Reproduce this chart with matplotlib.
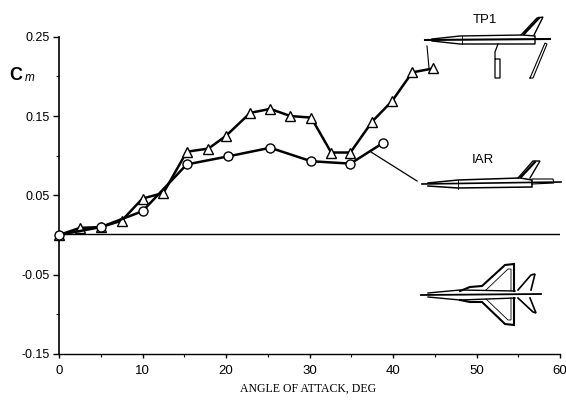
import numpy as np
import matplotlib
matplotlib.use('Agg')
import matplotlib.pyplot as plt

# Pitching moment vs angle of attack
tp1_alpha = [0, 2.5, 5, 7.5, 10, 12.5, 15.3, 17.9, 20, 22.9, 25.3, 27.7, 30.2, 32.6, 34.9, 37.5, 39.9, 42.3, 44.8]
tp1_cm = [0.0, 0.009, 0.010, 0.018, 0.046, 0.053, 0.105, 0.109, 0.125, 0.154, 0.159, 0.150, 0.148, 0.104, 0.104, 0.143, 0.169, 0.205, 0.210]
iar_alpha = [0, 5, 10, 15.3, 20.2, 25.3, 30.2, 34.9, 38.8]
iar_cm = [0.0, 0.010, 0.030, 0.089, 0.099, 0.110, 0.093, 0.090, 0.116]

x_ticks = [0, 10, 20, 30, 40, 50, 60]
x_minor = [5, 15, 25, 35, 45, 55]
y_ticks = [0.25, 0.15, 0.05, -0.05, -0.15]
y_minor = [0.20, 0.10, 0.0, -0.10]
y_labels = ['0.25', '0.15', '0.05', '-0.05', '-0.15']

W, H = 566, 400
fig = plt.figure(figsize=(W / 100, H / 100), dpi=100)
ax = fig.add_axes([59 / W, 1 - 354 / H, 501 / W, (354 - 36.7) / H])
ax.set_xlim(0, 60)
ax.set_ylim(-0.15, 0.25)
ax.spines['top'].set_visible(False)
ax.spines['right'].set_visible(False)
ax.spines['left'].set_linewidth(1.2)
ax.spines['bottom'].set_linewidth(1.0)

ax.set_xticks(x_ticks)
ax.set_xticks(x_minor, minor=True)
ax.set_yticks(y_ticks)
ax.set_yticks(y_minor, minor=True)
ax.set_yticklabels(y_labels, family='Liberation Sans', fontsize=9)
ax.set_xticklabels([str(t) for t in x_ticks], family='Liberation Sans', fontsize=9.5)
ax.tick_params(axis='y', which='major', length=4, width=1.0, pad=3)
ax.tick_params(axis='x', which='major', length=3, width=1.0, pad=5)
ax.tick_params(axis='both', which='minor', length=2, width=0.8)
ax.set_xlabel('ANGLE OF ATTACK, DEG', family='Liberation Serif', fontsize=8.5)
ax.xaxis.set_label_coords(0.497, -0.09)

ax.axhline(0.001, color='black', lw=1.0, zorder=1)
ax.plot(tp1_alpha, tp1_cm, color='black', lw=1.8, marker='^', ms=7, mfc='white', mec='black', mew=1.0,
        zorder=3, clip_on=False)
ax.plot(iar_alpha, iar_cm, color='black', lw=1.8, marker='o', ms=6.5, mfc='white', mec='black', mew=1.0,
        zorder=4, clip_on=False)

# Overlay in pixel coordinates for the aircraft sketches and notes
ov = fig.add_axes([0, 0, 1, 1], facecolor='none')
ov.set_xlim(0, W)
ov.set_ylim(H, 0)
ov.axis('off')


def sketch(points, lw=1.0):
    pts = np.array(points)
    ov.plot(pts[:, 0], pts[:, 1], color='black', lw=lw, solid_joinstyle='miter')


ov.text(9, 75, 'C', family='Liberation Sans', fontweight='bold', fontsize=13, va='center', ha='left')
ov.text(25, 78, 'm', family='Liberation Sans', style='italic', fontsize=8.5, va='center', ha='left')
ov.text(485, 20, 'TP1', family='Liberation Sans', fontsize=9.5, va='center', ha='center')
ov.text(483, 160, 'IAR', family='Liberation Sans', fontsize=9.5, va='center', ha='center')

# leader lines
sketch([(427, 46), (429, 68)], 0.8)
sketch([(371, 152), (417, 181)], 0.9)

# TP1 side view
sketch([(425, 40), (550, 39)], 1.5)
sketch([(432, 39), (460, 36), (522, 35), (535, 36), (535, 44), (460, 44), (432, 41)], 1.0)
sketch([(462, 36), (462, 44)], 0.6)
sketch([(521, 35), (537, 18), (543, 17), (534, 35)], 1.0)
sketch([(524, 34), (539, 18)], 1.6)
sketch([(498, 44), (495, 52), (495, 59), (495, 78), (500, 78), (500, 59), (496, 59)], 0.9)
sketch([(530, 78), (545, 43), (547, 44), (533, 78), (530, 78)], 0.8)

# IAR side view
sketch([(422, 184), (561, 182)], 1.2)
sketch([(428, 183), (458, 180), (520, 178), (532, 180), (532, 187), (458, 188), (428, 186)], 1.1)
sketch([(458, 180), (458, 189)], 0.6)
sketch([(518, 178), (533, 161), (540, 161), (530, 178)], 1.0)
sketch([(521, 177), (535, 162)], 1.6)
sketch([(532, 179), (553, 179), (554, 183), (532, 184)], 0.8)

# Top view
sketch([(421, 295), (541, 294)], 1.3)
sketch([(428, 293), (460, 290), (515, 291)], 1.0)
sketch([(428, 297), (460, 300), (515, 298)], 1.0)
sketch([(460, 291), (470, 287), (482, 286), (505, 265), (514, 264), (514, 291)], 1.5)
sketch([(460, 300), (470, 302), (482, 302), (505, 324), (514, 325), (514, 298)], 1.5)
sketch([(486, 290), (508, 269), (511, 269), (511, 291)], 0.6)
sketch([(486, 299), (508, 320), (511, 320), (511, 298)], 0.6)
sketch([(518, 290), (531, 275), (535, 274), (531, 290)], 1.2)
sketch([(518, 298), (533, 312), (536, 313), (530, 298)], 1.2)

fig.savefig('out.png', dpi=100)
plt.close()
